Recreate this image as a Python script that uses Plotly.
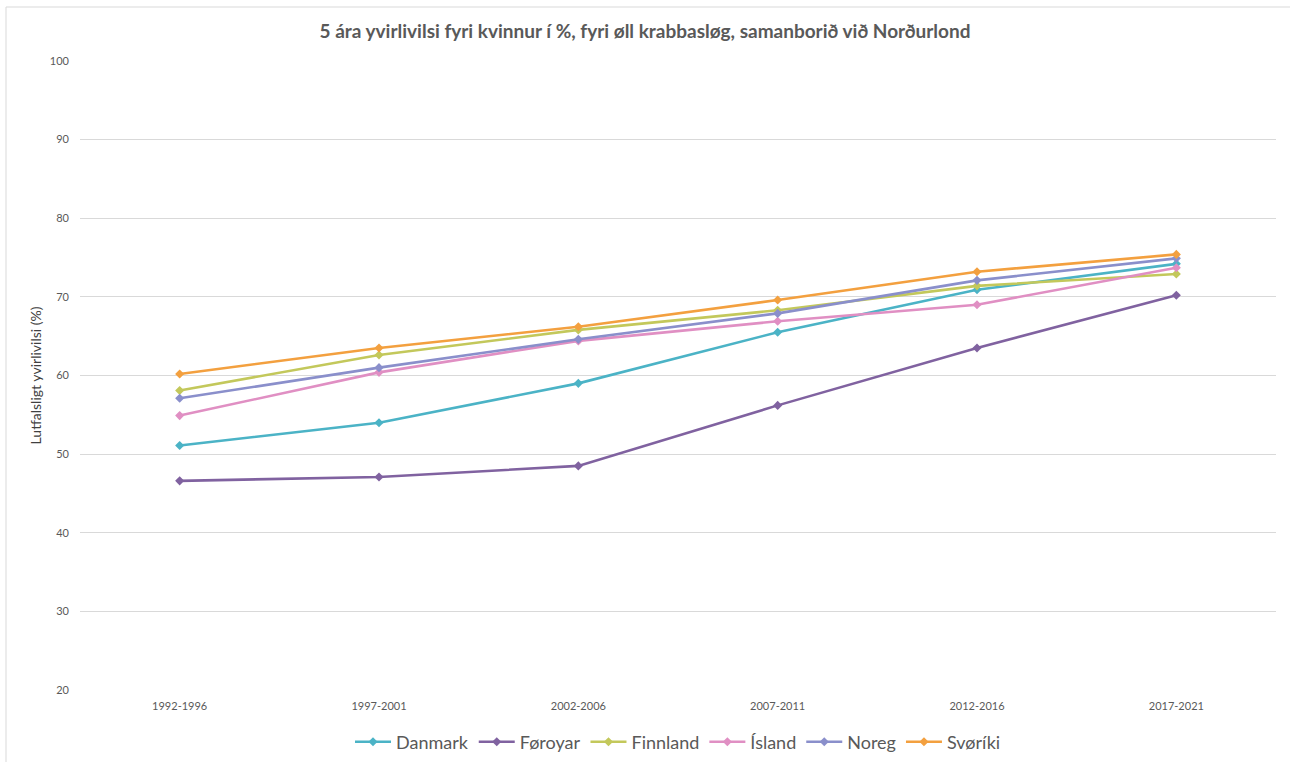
import plotly.graph_objects as go

periods = ["1992-1996", "1997-2001", "2002-2006", "2007-2011", "2012-2016", "2017-2021"]

danmark = [51.1, 54.0, 59.0, 65.5, 70.9, 74.2]
foroyar = [46.6, 47.1, 48.5, 56.2, 63.5, 70.2]
finnland = [58.1, 62.6, 65.8, 68.3, 71.4, 72.9]
island = [54.9, 60.4, 64.4, 66.9, 69.0, 73.7]
noreg = [57.1, 61.0, 64.6, 67.9, 72.1, 74.9]
sverige = [60.2, 63.5, 66.2, 69.6, 73.2, 75.4]

series = [
    ("Danmark", danmark, "#4BB3C6"),
    ("Føroyar", foroyar, "#8062A0"),
    ("Finnland", finnland, "#C3C85B"),
    ("Ísland", island, "#E08FC3"),
    ("Noreg", noreg, "#8A8FCB"),
    ("Svøríki", sverige, "#F3A03F"),
]

font_family = "Lato, 'Open Sans', sans-serif"

fig = go.Figure()
for name, vals, col in series:
    fig.add_trace(go.Scatter(
        x=periods, y=vals, name=name, mode="lines+markers",
        line=dict(color=col, width=2.6),
        marker=dict(symbol="diamond", size=7, color=col),
    ))

L, R, T, B = 80, 14, 61, 72
W, H = 1290, 762
pw = W - L - R
ph = H - T - B

fig.update_layout(
    width=W, height=H,
    margin=dict(l=L, r=R, t=T, b=B, autoexpand=False),
    paper_bgcolor="white", plot_bgcolor="white",
    font=dict(family=font_family, color="#595959"),
    title=dict(
        text="<b>5 ára yvirlivilsi fyri kvinnur í %, fyri øll krabbasløg, samanborið við Norðurlond</b>",
        x=0.5, xanchor="center", y=1 - 31 / H, yanchor="middle",
        font=dict(size=19, color="#595959", family=font_family),
    ),
    xaxis=dict(
        type="category", range=[-0.5, 5.5], showgrid=False, zeroline=False,
        showline=False, ticks="outside", ticklen=6, tickcolor="rgba(0,0,0,0)",
        tickfont=dict(size=11, color="#595959"),
    ),
    yaxis=dict(
        range=[20, 100], dtick=10, showgrid=True, gridcolor="#D9D9D9", gridwidth=1,
        zeroline=False, showline=False, ticks="", ticklabelstandoff=10,
        tickfont=dict(size=11, color="#595959"),
        title=dict(text="Lutfalsligt yvirlivilsi (%)", font=dict(size=14, color="#404040"), standoff=4),
    ),
    legend=dict(
        orientation="h", x=0.5, xanchor="center", yref="container",
        y=1 - 742 / H, yanchor="middle",
        font=dict(size=18, color="#595959"), itemwidth=36, tracegroupgap=0,
    ),
    showlegend=True,
)

fig.add_shape(
    type="rect", xref="paper", yref="paper",
    x0=(6 - L) / pw, x1=(1300 - L) / pw,
    y0=(T + ph - 775) / ph, y1=(T + ph - 7) / ph,
    line=dict(color="#D9D9D9", width=1), fillcolor="rgba(0,0,0,0)", layer="below",
)

fig.write_html(
    "out.html",
    config={"displayModeBar": False},
    post_script="document.body.style.margin='0';document.body.style.padding='0';",
)
